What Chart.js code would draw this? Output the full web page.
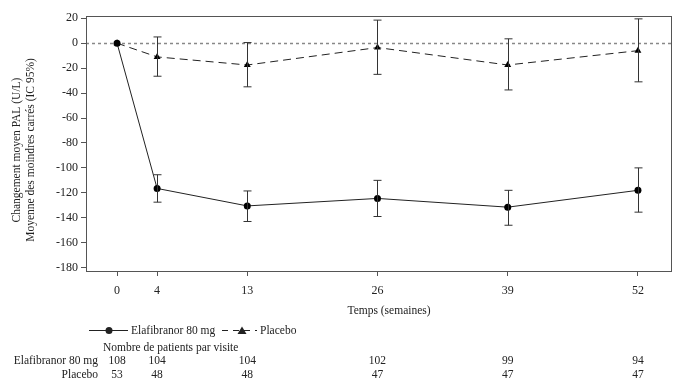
<!DOCTYPE html>
<html>
<head>
<meta charset="utf-8">
<script src="https://cdn.jsdelivr.net/npm/chart.js@4.4.1/dist/chart.umd.min.js"></script>
<style>
  html, body { margin: 0; padding: 0; background: #fff; }
  #wrap { width: 700px; height: 392px; }
</style>
</head>
<body>
<div id="wrap"><canvas id="pal" width="700" height="392"></canvas></div>
<script>
// values
var weeks = [0, 4, 13, 26, 39, 52];
var elafMean = [0, -116.5, -130.5, -124.5, -131.5, -118];
var elafLow  = [0, -127.5, -143, -139, -146, -135.5];
var elafHigh = [0, -105.5, -118.5, -110, -118, -100];
var placMean = [0, -11, -17.5, -3.5, -17.5, -6];
var placLow  = [0, -26.5, -35, -25, -37.5, -31];
var placHigh = [0, 5, 0.5, 18.5, 3.5, 19.5];
var yTicks = [20, 0, -20, -40, -60, -80, -100, -120, -140, -160, -180];
var elafN = [108, 104, 104, 102, 99, 94];
var placN = [53, 48, 48, 47, 47, 47];

var FONT = "'Liberation Serif', 'DejaVu Serif', serif";
var INK = '#222';
var AXIS = '#555';

function pts(xs, ys) {
  return xs.map(function(x, i) { return { x: x, y: ys[i] }; });
}

// error bars, zero reference line, box frame, legend and patient table
var extras = {
  id: 'extras',
  beforeDatasetsDraw: function(chart) {
    var ctx = chart.ctx, a = chart.chartArea, y = chart.scales.y;
    ctx.save();
    ctx.strokeStyle = '#888';
    ctx.lineWidth = 1.5;
    ctx.setLineDash([3, 3]);
    var y0 = Math.round(y.getPixelForValue(0)) + 0.5;
    ctx.beginPath(); ctx.moveTo(a.left, y0); ctx.lineTo(a.right, y0); ctx.stroke();
    ctx.restore();
  },
  afterDatasetsDraw: function(chart) {
    var ctx = chart.ctx, xs = chart.scales.x, ys = chart.scales.y;
    var bars = [[elafLow, elafHigh], [placLow, placHigh]];
    ctx.save();
    ctx.strokeStyle = '#333';
    ctx.lineWidth = 1;
    bars.forEach(function(b) {
      weeks.forEach(function(w, i) {
        if (b[0][i] === b[1][i]) return;
        var px = Math.round(xs.getPixelForValue(w)) + 0.5;
        var lo = ys.getPixelForValue(b[0][i]);
        var hi = ys.getPixelForValue(b[1][i]);
        ctx.beginPath();
        ctx.moveTo(px, lo); ctx.lineTo(px, hi);
        ctx.moveTo(px - 4, lo); ctx.lineTo(px + 4, lo);
        ctx.moveTo(px - 4, hi); ctx.lineTo(px + 4, hi);
        ctx.stroke();
      });
    });
    ctx.restore();
  },
  afterDraw: function(chart) {
    var ctx = chart.ctx, a = chart.chartArea, xs = chart.scales.x;
    ctx.save();
    // frame
    ctx.strokeStyle = AXIS;
    ctx.lineWidth = 1;
    ctx.strokeRect(Math.round(a.left) + 0.5, Math.round(a.top) + 0.5,
      Math.round(a.right - a.left), Math.round(a.bottom - a.top));

    ctx.fillStyle = INK;
    ctx.font = '11.5px ' + FONT;
    ctx.textBaseline = 'middle';

    // axis titles
    ctx.textAlign = 'center';
    ctx.fillText('Temps (semaines)', 389, 311);
    ctx.save();
    ctx.translate(17, 150);
    ctx.rotate(-Math.PI / 2);
    ctx.fillText('Changement moyen PAL (U/L)', 0, 0);
    ctx.fillText('Moyenne des moindres carrés (IC 95%)', 0, 14);
    ctx.restore();

    // legend
    var ly = 330.5;
    ctx.strokeStyle = INK;
    ctx.lineWidth = 1;
    ctx.beginPath(); ctx.moveTo(89, ly); ctx.lineTo(128, ly); ctx.stroke();
    ctx.beginPath(); ctx.arc(109, ly, 3.5, 0, Math.PI * 2); ctx.fill();
    ctx.textAlign = 'left';
    ctx.fillText('Elafibranor 80 mg', 131, ly);
    ctx.setLineDash([6, 5]);
    ctx.beginPath(); ctx.moveTo(222, ly); ctx.lineTo(257, ly); ctx.stroke();
    ctx.setLineDash([]);
    ctx.beginPath();
    ctx.moveTo(242, ly - 4); ctx.lineTo(246.5, ly + 3.5); ctx.lineTo(237.5, ly + 3.5);
    ctx.closePath(); ctx.fill();
    ctx.fillText('Placebo', 260, ly);

    // patients table
    ctx.fillText('Nombre de patients par visite', 103, 348);
    ctx.textAlign = 'right';
    ctx.fillText('Elafibranor 80 mg', 98, 361);
    ctx.fillText('Placebo', 98, 375);
    ctx.textAlign = 'center';
    weeks.forEach(function(w, i) {
      var px = xs.getPixelForValue(w);
      ctx.fillText(String(elafN[i]), px, 361);
      ctx.fillText(String(placN[i]), px, 375);
    });
    ctx.restore();
  }
};

new Chart(document.getElementById('pal').getContext('2d'), {
  type: 'line',
  data: {
    datasets: [{
      label: 'Elafibranor 80 mg',
      data: pts(weeks, elafMean),
      borderColor: INK,
      backgroundColor: '#000',
      borderWidth: 1,
      pointStyle: 'circle',
      pointRadius: 3.5,
      pointBorderWidth: 0,
      tension: 0
    }, {
      label: 'Placebo',
      data: pts(weeks, placMean),
      borderColor: INK,
      backgroundColor: '#000',
      borderWidth: 1,
      borderDash: [8, 5],
      pointStyle: 'triangle',
      pointRadius: 4,
      pointBorderWidth: 0,
      tension: 0
    }]
  },
  options: {
    responsive: false,
    animation: false,
    devicePixelRatio: 1,
    layout: { padding: { top: 16, right: 29, bottom: 0, left: 0 } },
    plugins: {
      legend: { display: false },
      tooltip: { enabled: false }
    },
    scales: {
      x: {
        type: 'linear',
        min: -3.1,
        max: 55.3,
        afterBuildTicks: function(s) { s.ticks = weeks.map(function(v) { return { value: v }; }); },
        afterFit: function(s) { s.height = 121; },
        grid: { drawOnChartArea: false, tickLength: 5, color: AXIS },
        border: { display: false },
        ticks: { color: INK, padding: 8, maxRotation: 0, font: { family: FONT, size: 12 } }
      },
      y: {
        min: -182.7,
        max: 21.8,
        afterBuildTicks: function(s) { s.ticks = yTicks.map(function(v) { return { value: v }; }); },
        afterFit: function(s) { s.width = 86; },
        grid: { drawOnChartArea: false, tickLength: 5, color: AXIS },
        border: { display: false },
        ticks: { color: INK, padding: 3, font: { family: FONT, size: 12 } }
      }
    }
  },
  plugins: [extras]
});
</script>
</body>
</html>
